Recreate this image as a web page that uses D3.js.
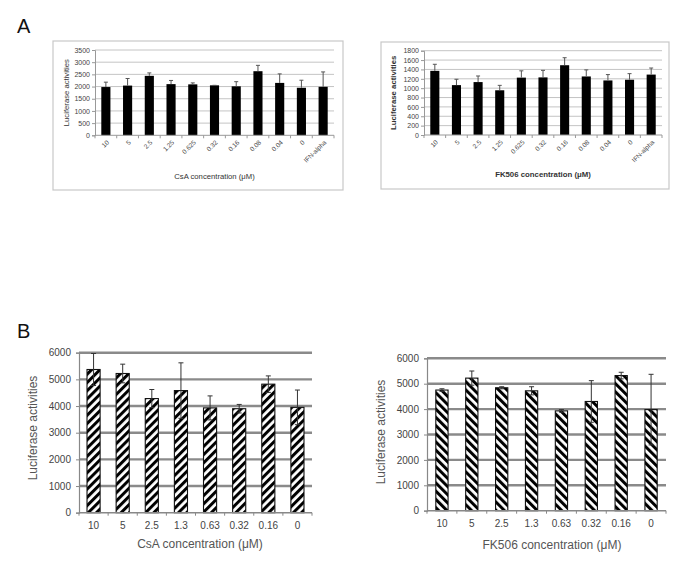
<!DOCTYPE html>
<html>
<head>
<meta charset="utf-8">
<script src="https://cdn.jsdelivr.net/npm/d3@7"></script>
<style>
  body { margin: 0; background: #fff; }
  svg { display: block; font-family: "Liberation Sans", Arial, sans-serif; }
</style>
</head>
<body>
<svg id="chart" width="685" height="567"></svg>
<script>
// ---------- DATA ----------
const catsA = ["10", "5", "2.5", "1.25", "0.625", "0.32", "0.16", "0.08", "0.04", "0", "IFN-alpha"];
const csaA = [1980, 2040, 2440, 2100, 2090, 2050, 2010, 2630, 2150, 1950, 1990];
const csaAErr = [200, 290, 120, 150, 60, 0, 190, 240, 370, 310, 610];
const fkA = [1370, 1065, 1130, 955, 1225, 1230, 1490, 1250, 1165, 1180, 1290];
const fkAErr = [140, 125, 130, 105, 145, 150, 160, 140, 125, 130, 140];
const ticksA1 = [0, 500, 1000, 1500, 2000, 2500, 3000, 3500];
const ticksA2 = [0, 200, 400, 600, 800, 1000, 1200, 1400, 1600, 1800];

const catsB = ["10", "5", "2.5", "1.3", "0.63", "0.32", "0.16", "0"];
const csaB = [5370, 5220, 4280, 4580, 3930, 3900, 4820, 3950];
const csaBErr = [600, 350, 340, 1040, 450, 160, 310, 650];
const fkB = [4750, 5220, 4840, 4720, 3930, 4300, 5320, 3980];
const fkBErr = [50, 280, 40, 160, 50, 820, 130, 1390];
const ticksB = [0, 1000, 2000, 3000, 4000, 5000, 6000];

const fmt = d3.format("d");
const svg = d3.select("#chart");
const defs = svg.append("defs");
[["hatchR", 45], ["hatchL", -45]].forEach(([id, ang]) => {
  const p = defs.append("pattern").attr("id", id)
    .attr("patternUnits", "userSpaceOnUse")
    .attr("width", 5.8).attr("height", 5.8)
    .attr("patternTransform", `rotate(${ang})`);
  p.append("rect").attr("width", 5.8).attr("height", 5.8).attr("fill", "#fff");
  p.append("rect").attr("width", 3).attr("height", 5.8).attr("fill", "#000");
});

// Panel letters
svg.append("text").attr("x", 17).attr("y", 33).attr("font-size", 20).attr("fill", "#111").text("A");
svg.append("text").attr("x", 17).attr("y", 338).attr("font-size", 20).attr("fill", "#111").text("B");

// ---------- Panel A ----------
function panelA(o) {
  svg.append("rect").attr("x", o.box[0]).attr("y", o.box[1])
    .attr("width", o.box[2] - o.box[0]).attr("height", o.box[3] - o.box[1])
    .attr("fill", "#fff").attr("stroke", "#c8c8c8").attr("stroke-width", 1.2);
  const g = svg.append("g");
  const x = d3.scaleBand().domain(o.cats).range([o.x0, o.x1]);
  const y = d3.scaleLinear().domain([0, o.ticks[o.ticks.length - 1]]).range([o.y0, o.y1]);
  g.selectAll(".grid").data(o.ticks.slice(1)).join("line")
    .attr("x1", o.x0).attr("x2", o.x1)
    .attr("y1", d => y(d)).attr("y2", d => y(d))
    .attr("stroke", "#c4c4c4").attr("stroke-width", 1);
  const ya = g.append("g").attr("transform", `translate(${o.x0},0)`)
    .call(d3.axisLeft(y).tickValues(o.ticks).tickFormat(fmt).tickSize(3).tickPadding(2));
  ya.select(".domain").attr("stroke", "#999");
  ya.selectAll(".tick line").attr("stroke", "#999");
  ya.selectAll("text").attr("font-size", 7).attr("fill", "#444").attr("font-family", "Liberation Sans, Arial, sans-serif");
  const bw = x.bandwidth() * 0.42;
  g.selectAll(".bar").data(o.vals).join("rect")
    .attr("x", (d, i) => x(o.cats[i]) + x.bandwidth() / 2 - bw / 2)
    .attr("y", d => y(d)).attr("width", bw).attr("height", d => y(0) - y(d))
    .attr("fill", "#000");
  o.vals.forEach((v, i) => {
    const cx = x(o.cats[i]) + x.bandwidth() / 2;
    const top = y(v + o.err[i]);
    g.append("line").attr("x1", cx).attr("x2", cx).attr("y1", y(v)).attr("y2", top)
      .attr("stroke", "#555").attr("stroke-width", 1);
    g.append("line").attr("x1", cx - 2).attr("x2", cx + 2).attr("y1", top).attr("y2", top)
      .attr("stroke", "#555").attr("stroke-width", 1);
  });
  g.append("line").attr("x1", o.x0).attr("x2", o.x1).attr("y1", o.y0).attr("y2", o.y0)
    .attr("stroke", "#999").attr("stroke-width", 1);
  d3.range(o.cats.length + 1).forEach(i => {
    const xx = o.x0 + i * x.step();
    g.append("line").attr("x1", xx).attr("x2", xx).attr("y1", o.y0).attr("y2", o.y0 + 3)
      .attr("stroke", "#999");
  });
  g.selectAll(".xl").data(o.cats).join("text")
    .attr("transform", d => `translate(${x(d) + x.bandwidth() / 2 + 2},${o.y0 + 6}) rotate(-45)`)
    .attr("text-anchor", "end").attr("dy", "0.35em")
    .attr("font-size", 6.5).attr("fill", "#444").text(d => d);
  g.append("text").attr("x", (o.x0 + o.x1) / 2).attr("y", o.xtY)
    .attr("text-anchor", "middle").attr("font-size", o.bold ? 7.8 : 7.7)
    .attr("font-weight", o.bold ? "bold" : "normal").attr("fill", "#333").text(o.xt);
  g.append("text").attr("transform", `translate(${o.ytX},${(o.y0 + o.y1) / 2}) rotate(-90)`)
    .attr("text-anchor", "middle").attr("dy", "0.35em")
    .attr("font-size", o.bold ? 7.8 : 7.7)
    .attr("font-weight", o.bold ? "bold" : "normal").attr("fill", "#333").text("Luciferase activities");
}

panelA({ box: [53, 41, 343, 190], cats: catsA, vals: csaA, err: csaAErr, ticks: ticksA1,
  x0: 95, x1: 334, y0: 135.3, y1: 50, xt: "CsA concentration (μM)", xtY: 179, ytX: 66, bold: false });
panelA({ box: [381, 42, 669, 189], cats: catsA, vals: fkA, err: fkAErr, ticks: ticksA2,
  x0: 424, x1: 662, y0: 135, y1: 50.7, xt: "FK506 concentration (μM)", xtY: 177, ytX: 393, bold: true });

// ---------- Panel B ----------
function panelB(o) {
  const g = svg.append("g");
  const x = d3.scaleBand().domain(o.cats).range([o.x0, o.x1]);
  const y = d3.scaleLinear().domain([0, 6000]).range([o.y0, o.y1]);
  g.selectAll(".grid").data(o.ticks.slice(1)).join("line")
    .attr("x1", o.x0).attr("x2", o.x1)
    .attr("y1", d => y(d)).attr("y2", d => y(d))
    .attr("stroke", "#8a8a8a").attr("stroke-width", 2.4);
  const ya = g.append("g").attr("transform", `translate(${o.x0},0)`)
    .call(d3.axisLeft(y).tickValues(o.ticks).tickFormat(fmt).tickSize(3).tickPadding(5));
  ya.select(".domain").attr("stroke", "#888").attr("stroke-width", 1.2);
  ya.selectAll(".tick line").attr("stroke", "#888");
  ya.selectAll("text").attr("font-size", 10).attr("fill", "#444").attr("font-family", "Liberation Sans, Arial, sans-serif");
  const bw = x.bandwidth() * o.bwf;
  g.selectAll(".bar").data(o.vals).join("rect")
    .attr("x", (d, i) => x(o.cats[i]) + x.bandwidth() / 2 - bw / 2)
    .attr("y", d => y(d)).attr("width", bw).attr("height", d => y(0) - y(d))
    .attr("fill", `url(#${o.hatch})`).attr("stroke", "#111").attr("stroke-width", 1.1);
  o.vals.forEach((v, i) => {
    const cx = x(o.cats[i]) + x.bandwidth() / 2;
    const top = y(v + o.err[i]), bot = y(v - o.err[i]);
    g.append("line").attr("x1", cx).attr("x2", cx).attr("y1", bot).attr("y2", top)
      .attr("stroke", "#333").attr("stroke-width", 1);
    [top, bot].forEach(yy => g.append("line").attr("x1", cx - 2.5).attr("x2", cx + 2.5)
      .attr("y1", yy).attr("y2", yy).attr("stroke", "#333").attr("stroke-width", 1));
  });
  g.append("line").attr("x1", o.x0).attr("x2", o.x1).attr("y1", o.y0).attr("y2", o.y0)
    .attr("stroke", "#888").attr("stroke-width", 1.6);
  d3.range(o.cats.length + 1).forEach(i => {
    const xx = o.x0 + i * x.step();
    g.append("line").attr("x1", xx).attr("x2", xx).attr("y1", o.y0).attr("y2", o.y0 + 3)
      .attr("stroke", "#888");
  });
  g.selectAll(".xl").data(o.cats).join("text")
    .attr("x", d => x(d) + x.bandwidth() / 2).attr("y", o.tlY)
    .attr("text-anchor", "middle").attr("font-size", 10).attr("fill", "#444").text(d => d);
  g.append("text").attr("x", o.xtX).attr("y", o.xtY)
    .attr("text-anchor", "middle").attr("font-size", 12).attr("fill", "#555").text(o.xt);
  g.append("text").attr("transform", `translate(${o.ytX},${o.ytY}) rotate(-90)`)
    .attr("text-anchor", "middle").attr("dy", "0.35em")
    .attr("font-size", 12).attr("fill", "#555").text("Luciferase activities");
}

panelB({ cats: catsB, vals: csaB, err: csaBErr, ticks: ticksB, hatch: "hatchR", bwf: 0.45,
  x0: 79, x1: 312, y0: 512.7, y1: 352.7, tlY: 529, xt: "CsA concentration (μM)", xtX: 200, xtY: 548,
  ytX: 33, ytY: 428 });
panelB({ cats: catsB, vals: fkB, err: fkBErr, ticks: ticksB, hatch: "hatchL", bwf: 0.41,
  x0: 427, x1: 666, y0: 510.7, y1: 358.3, tlY: 527, xt: "FK506 concentration (μM)", xtX: 552, xtY: 549,
  ytX: 381, ytY: 432 });
</script>
</body>
</html>
